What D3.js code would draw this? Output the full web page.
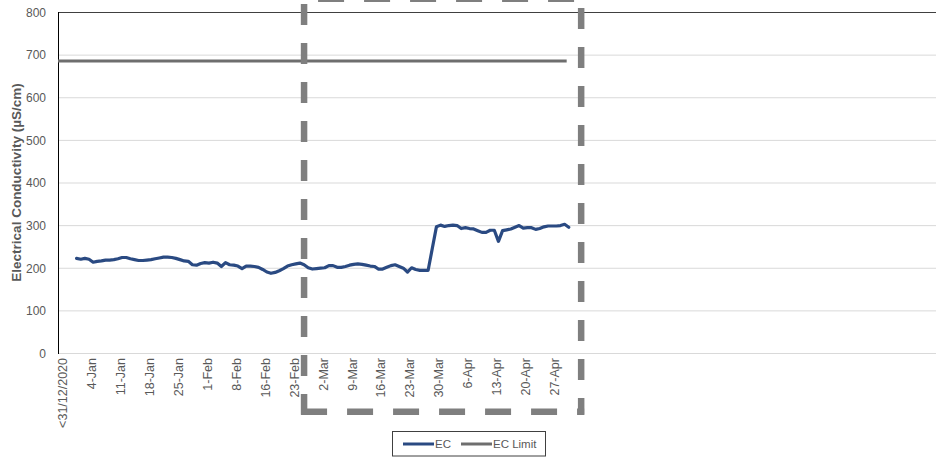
<!DOCTYPE html>
<html>
<head>
<meta charset="utf-8">
<script src="https://cdn.jsdelivr.net/npm/d3@7"></script>
<style>
  html, body { margin: 0; padding: 0; background: #fff; }
  svg { display: block; }
</style>
</head>
<body>
<svg id="chart" width="936" height="458"></svg>
<script>
// ---- data ----
const tickLabels = ["<31/12/2020","4-Jan","11-Jan","18-Jan","25-Jan","1-Feb","8-Feb","16-Feb","23-Feb",
  "2-Mar","9-Mar","16-Mar","23-Mar","30-Mar","6-Apr","13-Apr","20-Apr","27-Apr"];
const tickDays = [0,7,14,21,28,35,42,49,56,63,70,77,84,91,98,105,112,119];
const yTicks = [0,100,200,300,400,500,600,700,800];
const ecStartDay = 3.5;
const ecValues = [
  222,220,222,220,213,215,216,218,218,219,221,224,224,221,219,217,217,218,219,221,
  223,225,225,224,222,219,216,215,207,206,210,212,211,213,211,203,212,207,206,204,
  198,204,204,203,201,196,190,187,189,193,198,204,207,209,211,207,200,197,198,199,
  200,205,205,201,201,203,206,208,209,208,206,204,203,197,197,201,205,207,203,199,
  190,200,196,194,194,194,245,296,300,297,299,300,299,292,294,292,291,287,283,283,
  288,288,262,287,289,291,295,299,293,294,294,290,292,296,298,298,298,299,302,295
];
const limitDays = [-1, 122];
const limitValue = 685;
const highlightDays = [58.5, 125.5];
const highlightValues = [-138, 831];
const seriesNames = ["EC", "EC Limit"];

// ---- chart ----
const svg = d3.select("#chart");
const ecColor = "#2a4a82", limColor = "#6e6e6e", txt = "#595959";
const font = "Liberation Sans, Arial, sans-serif";
const x = d3.scaleLinear().domain([-1, 211.3]).range([58, 936]);
const y = d3.scaleLinear().domain([0, 800]).range([353, 12]);

// gridlines
svg.append("g").selectAll("line").data(yTicks).join("line")
  .attr("x1", 58).attr("x2", 936)
  .attr("y1", d => y(d) + 0.5).attr("y2", d => y(d) + 0.5)
  .attr("stroke", d => d === 800 ? "#404040" : "#d9d9d9")
  .attr("stroke-width", 1);

// y axis line
svg.append("line").attr("x1", 58.5).attr("x2", 58.5).attr("y1", y(800)).attr("y2", y(0) + 1)
  .attr("stroke", "#000").attr("stroke-width", 1);

// y tick labels
const yAxis = d3.axisLeft(y).tickValues(yTicks).tickSize(0).tickPadding(12);
const gy = svg.append("g").attr("transform", "translate(58,0.5)").call(yAxis);
gy.select(".domain").remove();
gy.selectAll("text").attr("fill", txt).style("font-family", font).style("font-size", "12px");

// x tick labels
const xAxis = d3.axisBottom(x).tickValues(tickDays).tickFormat((d, i) => tickLabels[i]).tickSize(0);
const gx = svg.append("g").attr("transform", "translate(0,353)").call(xAxis);
gx.select(".domain").remove();
gx.selectAll("text")
  .attr("fill", txt)
  .style("font-family", font).style("font-size", "12.5px")
  .attr("text-anchor", "end")
  .attr("transform", "rotate(-90)")
  .attr("x", -5).attr("y", 0).attr("dy", "0.35em");

// y title
svg.append("text")
  .attr("transform", `translate(21,${(y(0) + y(800)) / 2}) rotate(-90)`)
  .attr("text-anchor", "middle")
  .attr("fill", txt)
  .style("font-family", font).style("font-size", "13.5px").style("font-weight", "bold")
  .text("Electrical Conductivity (µS/cm)");

// limit line
svg.append("path")
  .datum(limitDays.map(d => [d, limitValue]))
  .attr("d", d3.line().x(d => x(d[0])).y(d => y(d[1])))
  .attr("fill", "none").attr("stroke", limColor).attr("stroke-width", 3);

// EC line
svg.append("path")
  .datum(ecValues.map((v, i) => [ecStartDay + i, v]))
  .attr("d", d3.line().x(d => x(d[0])).y(d => y(d[1])))
  .attr("fill", "none").attr("stroke", ecColor).attr("stroke-width", 3.2)
  .attr("stroke-linejoin", "round").attr("stroke-linecap", "round");

// dashed highlight box
const bx0 = x(highlightDays[0]), bx1 = x(highlightDays[1]);
const byT = y(highlightValues[1]), byB = y(highlightValues[0]);
const dashCol = "#7f7f7f", dashW = 6.5;
svg.append("line").attr("x1", bx0).attr("x2", bx1 + 3).attr("y1", byT).attr("y2", byT)
  .attr("stroke", dashCol).attr("stroke-width", dashW).attr("stroke-dasharray", "26 20").attr("stroke-dashoffset", 32);
svg.append("line").attr("x1", bx0 - 3).attr("x2", bx1 + 3).attr("y1", byB).attr("y2", byB)
  .attr("stroke", dashCol).attr("stroke-width", dashW).attr("stroke-dasharray", "26 20");
svg.append("line").attr("x1", bx0).attr("x2", bx0).attr("y1", 4).attr("y2", byB + 3)
  .attr("stroke", dashCol).attr("stroke-width", dashW).attr("stroke-dasharray", "21 18");
svg.append("line").attr("x1", bx1).attr("x2", bx1).attr("y1", 8).attr("y2", byB + 3)
  .attr("stroke", dashCol).attr("stroke-width", dashW).attr("stroke-dasharray", "21 18");

// legend
const lg = svg.append("g");
lg.append("rect").attr("x", 392.5).attr("y", 431.5).attr("width", 153).attr("height", 24.5)
  .attr("fill", "#fff").attr("stroke", "#404040").attr("stroke-width", 1);
const items = [{name: seriesNames[0], color: ecColor, x: 403}, {name: seriesNames[1], color: limColor, x: 461}];
items.forEach(it => {
  lg.append("line").attr("x1", it.x).attr("x2", it.x + 31).attr("y1", 444).attr("y2", 444)
    .attr("stroke", it.color).attr("stroke-width", 3);
  lg.append("text").attr("x", it.x + 32).attr("y", 444).attr("dy", "0.35em")
    .attr("fill", txt).style("font-family", font).style("font-size", "11.5px")
    .text(it.name);
});
</script>
</body>
</html>
